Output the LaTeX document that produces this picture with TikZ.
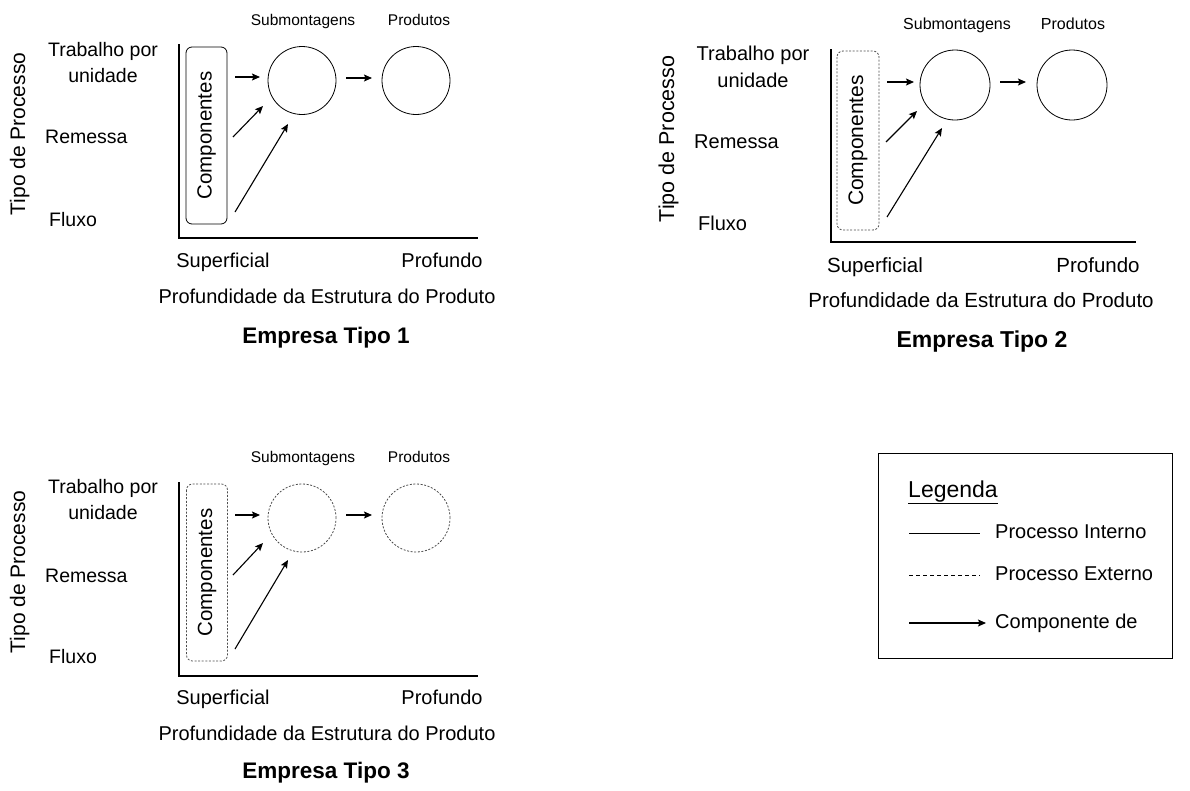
\documentclass[tikz,border=0pt]{standalone}
\usepackage{fontspec}
\setmainfont{Liberation Sans}
\usepackage{tikz}
\usetikzlibrary{arrows.meta}

\tikzset{
	rotulo/.style={font=\fontsize{19.5}{26}\selectfont, inner sep=0pt, text height=14pt, text depth=4pt},
	rotdois/.style={font=\fontsize{19.5}{26}\selectfont, inner sep=0pt, align=center},
	rotpeq/.style={font=\fontsize{15.5}{18}\selectfont, inner sep=0pt, text height=11pt, text depth=3pt},
	titulo/.style={font=\fontsize{22.5}{26}\selectfont\bfseries, inner sep=0pt, text height=16pt, text depth=5pt},
	compbox/.style={draw, rotate=90, rounded corners=6pt, minimum width=177pt, minimum height=41pt, line width=0.8pt, font=\fontsize{20.5}{24}\selectfont},
	externo/.style={draw=black!70, dash pattern=on 2pt off 1.6pt},
	proc/.style={draw, circle, minimum size=68pt, inner sep=0pt, line width=0.8pt},
	compde/.style={-{Stealth[length=8pt, width=7pt, inset=1.5pt]}, line width=1.1pt},
	eixo/.style={line width=1.7pt},
}

\begin{document}
\begin{tikzpicture}[x=1pt, y=-1pt]
	\useasboundingbox (0,0) rectangle (1190,790);

	%----- Empresa Tipo 1 -----
	%axes
	\draw[eixo] (179,44) -- (179,238) -- (478,238);
	%labels
	\node[rotulo, rotate=90, font=\fontsize{21}{24}\selectfont] (p1tipo) at (20,134) {Tipo de Processo};
	\node[rotdois] (p1trab) at (103,63) {Trabalho por\\unidade};
	\node[rotulo, anchor=west] (p1rem) at (45,138) {Remessa};
	\node[rotulo, anchor=west] (p1flu) at (49,221) {Fluxo};
	\node[rotulo, font=\fontsize{20}{24}\selectfont] (p1sup) at (223,262) {Superficial};
	\node[rotulo, font=\fontsize{20}{24}\selectfont] (p1pro) at (442,262) {Profundo};
	\node[rotulo, font=\fontsize{20}{24}\selectfont] (p1eixo) at (327,298) {Profundidade da Estrutura do Produto};
	\node[titulo] (p1tit) at (326,338) {Empresa Tipo 1};
	%boxes and circles
	\node[compbox] (p1comp) at (206.5,135.5) {Componentes};
	\node[proc] (p1sub) at (302,80.5) {};
	\node[proc] (p1prod) at (416,80.5) {};
	\node[rotpeq] (p1subl) at (303,21) {Submontagens};
	\node[rotpeq] (p1prodl) at (419,21) {Produtos};
	%arrows
	\coordinate (p1a1) at (235,77);   \coordinate (p1b1) at (260,77);
	\coordinate (p1a2) at (233,137);  \coordinate (p1b2) at (263,106);
	\coordinate (p1a3) at (235,212);  \coordinate (p1b3) at (288,124);
	\coordinate (p1a4) at (346,78);   \coordinate (p1b4) at (372,78);
	\draw[compde] (p1a1) -- (p1b1);
	\draw[compde] (p1a2) -- (p1b2);
	\draw[compde] (p1a3) -- (p1b3);
	\draw[compde] (p1a4) -- (p1b4);

	%----- Empresa Tipo 2 -----
	%axes
	\draw[eixo] (831,49) -- (831,242) -- (1136,242);
	%labels
	\node[rotulo, rotate=90, font=\fontsize{21.5}{24}\selectfont] (p2tipo) at (669,139) {Tipo de Processo};
	\node[rotdois, font=\fontsize{20}{27}\selectfont] (p2trab) at (753,66.5) {Trabalho por\\unidade};
	\node[rotulo, anchor=west, font=\fontsize{20}{24}\selectfont] (p2rem) at (694,143) {Remessa};
	\node[rotulo, anchor=west, font=\fontsize{20}{24}\selectfont] (p2flu) at (698,225) {Fluxo};
	\node[rotulo, font=\fontsize{20.5}{24}\selectfont] (p2sup) at (875,267) {Superficial};
	\node[rotulo, font=\fontsize{20.5}{24}\selectfont] (p2pro) at (1098,267) {Profundo};
	\node[rotulo, font=\fontsize{20.5}{24}\selectfont] (p2eixo) at (981,302) {Profundidade da Estrutura do Produto};
	\node[titulo, font=\fontsize{23}{26}\selectfont\bfseries] (p2tit) at (982,342) {Empresa Tipo 2};
	%boxes and circles
	\node[compbox, externo, minimum width=179pt, minimum height=42pt, font=\fontsize{21}{24}\selectfont] (p2comp) at (858,140.5) {Componentes};
	\node[proc, minimum size=70pt] (p2sub) at (955,85) {};
	\node[proc, minimum size=70pt] (p2prod) at (1072,85) {};
	\node[rotpeq, font=\fontsize{16}{18}\selectfont] (p2subl) at (957,25) {Submontagens};
	\node[rotpeq, font=\fontsize{16}{18}\selectfont] (p2prodl) at (1073,25) {Produtos};
	%arrows
	\coordinate (p2a1) at (887,82);   \coordinate (p2b1) at (914,82);
	\coordinate (p2a2) at (886,142);  \coordinate (p2b2) at (917,111);
	\coordinate (p2a3) at (887,217);  \coordinate (p2b3) at (942,128);
	\coordinate (p2a4) at (1000,82);  \coordinate (p2b4) at (1026,82);
	\draw[compde] (p2a1) -- (p2b1);
	\draw[compde] (p2a2) -- (p2b2);
	\draw[compde] (p2a3) -- (p2b3);
	\draw[compde] (p2a4) -- (p2b4);

	%----- Empresa Tipo 3 -----
	%axes
	\draw[eixo] (179,482) -- (179,676) -- (478,676);
	%labels
	\node[rotulo, rotate=90, font=\fontsize{21}{24}\selectfont] (p3tipo) at (20,572) {Tipo de Processo};
	\node[rotdois] (p3trab) at (103,500) {Trabalho por\\unidade};
	\node[rotulo, anchor=west] (p3rem) at (45,577) {Remessa};
	\node[rotulo, anchor=west] (p3flu) at (49,658) {Fluxo};
	\node[rotulo, font=\fontsize{20}{24}\selectfont] (p3sup) at (223,699) {Superficial};
	\node[rotulo, font=\fontsize{20}{24}\selectfont] (p3pro) at (442,699) {Profundo};
	\node[rotulo, font=\fontsize{20}{24}\selectfont] (p3eixo) at (327,735) {Profundidade da Estrutura do Produto};
	\node[titulo] (p3tit) at (326,773) {Empresa Tipo 3};
	%boxes and circles
	\node[compbox, externo] (p3comp) at (207,572.5) {Componentes};
	\node[proc, externo] (p3sub) at (302,518) {};
	\node[proc, externo] (p3prod) at (416,518) {};
	\node[rotpeq] (p3subl) at (303,458) {Submontagens};
	\node[rotpeq] (p3prodl) at (419,458) {Produtos};
	%arrows
	\coordinate (p3a1) at (235,515);  \coordinate (p3b1) at (260,515);
	\coordinate (p3a2) at (233,575);  \coordinate (p3b2) at (263,543);
	\coordinate (p3a3) at (235,649);  \coordinate (p3b3) at (288,560);
	\coordinate (p3a4) at (346,515);  \coordinate (p3b4) at (372,515);
	\draw[compde] (p3a1) -- (p3b1);
	\draw[compde] (p3a2) -- (p3b2);
	\draw[compde] (p3a3) -- (p3b3);
	\draw[compde] (p3a4) -- (p3b4);

	%----- Legenda -----
	\node[draw, line width=0.9pt, minimum width=294pt, minimum height=205pt, inner sep=0pt] (leg) at (1025,555.5) {};
	\node[rotulo, anchor=west, font=\fontsize{23}{26}\selectfont, text height=17pt, text depth=6pt] (legtit) at (908,492) {\underline{Legenda}};
	\coordinate (l1a) at (909,533);  \coordinate (l1b) at (980,533);
	\coordinate (l2a) at (909,575);  \coordinate (l2b) at (980,575);
	\coordinate (l3a) at (909,623);  \coordinate (l3b) at (986,623);
	\draw[line width=0.9pt] (l1a) -- (l1b);
	\draw[line width=0.9pt, dash pattern=on 4pt off 3pt] (l2a) -- (l2b);
	\draw[compde] (l3a) -- (l3b);
	\node[rotulo, anchor=west, font=\fontsize{20}{24}\selectfont] (leg1) at (995,533) {Processo Interno};
	\node[rotulo, anchor=west, font=\fontsize{20}{24}\selectfont] (leg2) at (995,575) {Processo Externo};
	\node[rotulo, anchor=west, font=\fontsize{20}{24}\selectfont] (leg3) at (995,623) {Componente de};
\end{tikzpicture}
\end{document}
